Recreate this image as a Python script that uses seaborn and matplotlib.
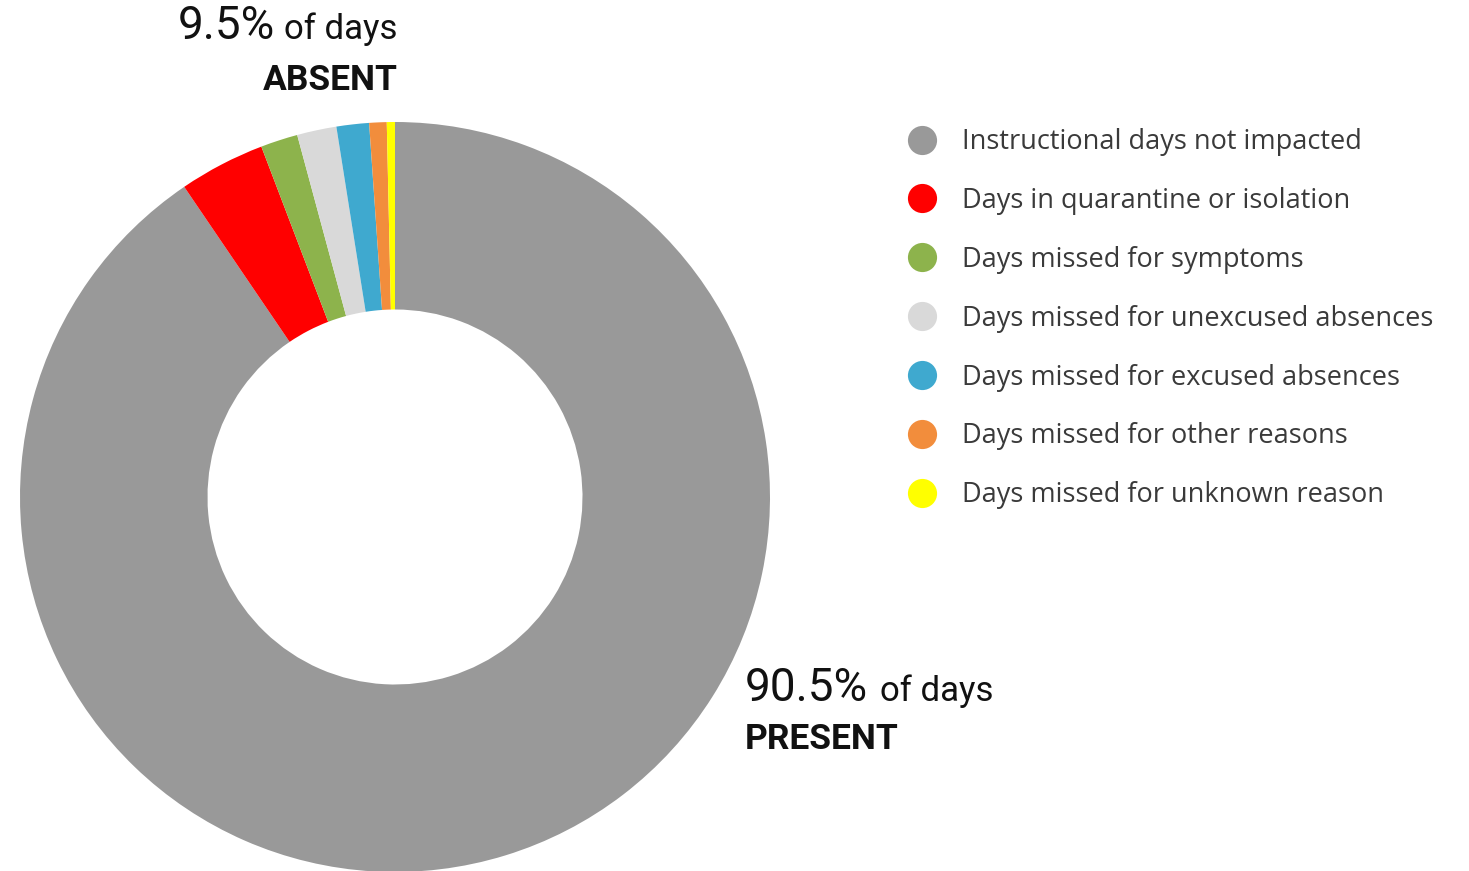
import matplotlib.pyplot as plt
import seaborn as sns
from matplotlib.lines import Line2D

categories = [
    'Instructional days not impacted',
    'Days in quarantine or isolation',
    'Days missed for symptoms',
    'Days missed for unexcused absences',
    'Days missed for excused absences',
    'Days missed for other reasons',
    'Days missed for unknown reason',
]
shares = [90.5, 3.7, 1.6, 1.7, 1.4, 0.75, 0.35]
colors = ['#999999', '#ff0000', '#8db34c', '#d9d9d9', '#3fa9cf', '#f28d3c', '#ffff00']

sns.set_theme(style='white')
plt.rcParams['font.family'] = ['Roboto', 'DejaVu Sans']

W, H = 1469, 871
fig = plt.figure(figsize=(W / 100, H / 100), dpi=100)


def fx(px):
    return px / W


def fy(py):
    return 1 - py / H


# donut: centre (395, 497), outer radius 375 px
ax = fig.add_axes([fx(20), fy(872), fx(750), 750 / H])
ax.pie(shares, colors=colors, startangle=90, counterclock=False,
       wedgeprops=dict(width=0.5, linewidth=0))
ax.set_xlim(-1, 1)
ax.set_ylim(-1, 1)
ax.set_aspect('equal')
ax.axis('off')

# annotations
fig.text(fx(178), fy(39), '9.5%', fontsize=33, color='#111111', va='baseline', ha='left')
fig.text(fx(398), fy(39), 'of days', fontsize=25, color='#111111', va='baseline', ha='right')
fig.text(fx(398), fy(90), 'ABSENT', fontsize=25.5, fontweight='bold', color='#111111',
         va='baseline', ha='right')

fig.text(fx(745), fy(701), '90.5%', fontsize=33, color='#111111', va='baseline', ha='left')
fig.text(fx(993), fy(701), 'of days', fontsize=25, color='#111111', va='baseline', ha='right')
fig.text(fx(745), fy(749), 'PRESENT', fontsize=25.5, fontweight='bold', color='#111111',
         va='baseline', ha='left')

# legend
handles = [Line2D([0], [0], marker='o', linestyle='none', markersize=21,
                  markerfacecolor=c, markeredgewidth=0) for c in colors]
leg = fig.legend(handles, categories, loc='upper left',
                 bbox_to_anchor=(fx(904), fy(128)), bbox_transform=fig.transFigure,
                 frameon=False, borderpad=0, borderaxespad=0,
                 handlelength=1.3, handletextpad=0.83, labelspacing=1.14,
                 prop={'family': ['Open Sans', 'DejaVu Sans'], 'size': 19.5})
for t in leg.get_texts():
    t.set_color('#3a3a3a')

fig.savefig('out.png', dpi=100, facecolor='white')
